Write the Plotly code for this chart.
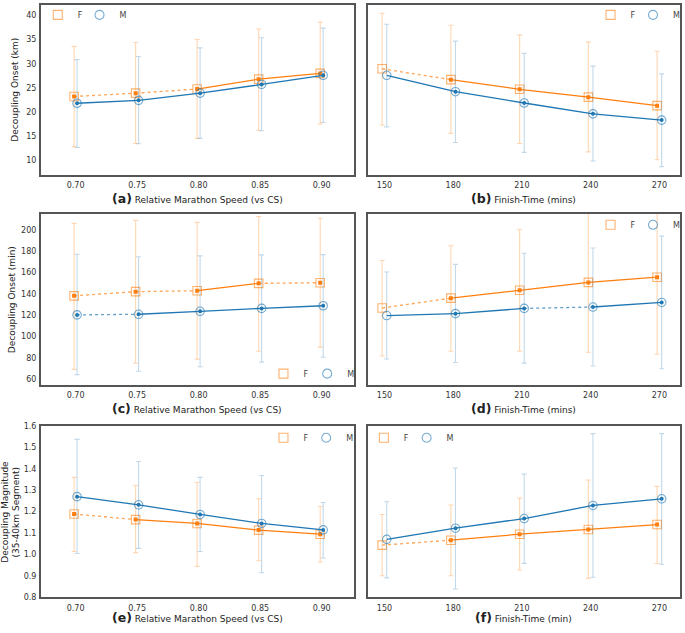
import plotly.graph_objects as go

W, H = 685, 633

speed = [0.70, 0.75, 0.80, 0.85, 0.90]
speed_labels = ["0.70", "0.75", "0.80", "0.85", "0.90"]
finish = [150, 180, 210, 240, 270]
finish_labels = ["150", "180", "210", "240", "270"]

# (a) Decoupling onset (km) vs relative speed
a_F_mean = [23.2, 23.9, 24.75, 26.8, 28.0]
a_F_hi = [33.6, 34.4, 35.05, 37.2, 38.65]
a_F_lo = [12.8, 13.45, 14.5, 16.2, 17.5]
a_M_mean = [21.8, 22.4, 23.9, 25.7, 27.6]
a_M_hi = [30.85, 31.5, 33.3, 35.4, 37.4]
a_M_lo = [12.6, 13.4, 14.5, 16.1, 17.8]

# (b) Decoupling onset (km) vs finish time
b_F_mean = [28.96, 26.7, 24.7, 23.07, 21.3]
b_F_hi = [40.5, 38.0, 36.0, 34.5, 32.6]
b_F_lo = [17.3, 15.55, 13.45, 11.7, 10.06]
b_M_mean = [27.6, 24.2, 21.85, 19.6, 18.3]
b_M_hi = [38.2, 34.7, 32.15, 29.5, 27.9]
b_M_lo = [16.9, 13.65, 11.6, 9.8, 8.65]

# (c) Decoupling onset (min) vs relative speed
c_F_mean = [138.2, 142.1, 143.0, 149.9, 150.5]
c_F_hi = [206.2, 209.0, 207.1, 212.6, 211.0]
c_F_lo = [69.2, 75.0, 78.8, 86.2, 90.1]
c_M_mean = [120.3, 120.9, 123.7, 126.4, 128.9]
c_M_hi = [177.2, 174.8, 175.7, 176.6, 176.9]
c_M_lo = [64.3, 67.4, 71.7, 76.0, 80.6]

# (d) Decoupling onset (min) vs finish time
d_F_mean = [126.8, 136.0, 143.4, 150.8, 155.7]
d_F_hi = [171.4, 185.2, 200.6, 228.0, 232.0]
d_F_lo = [81.8, 86.2, 86.2, 85.3, 83.4]
d_M_mean = [119.7, 121.5, 126.4, 127.7, 132.0]
d_M_hi = [160.6, 167.7, 178.2, 183.1, 194.2]
d_M_lo = [79.0, 75.7, 75.1, 72.3, 69.8]

# (e) Decoupling magnitude vs relative speed
e_F_mean = [1.189, 1.163, 1.145, 1.114, 1.095]
e_F_hi = [1.36, 1.323, 1.337, 1.26, 1.224]
e_F_lo = [1.014, 1.009, 0.945, 0.971, 0.965]
e_M_mean = [1.27, 1.232, 1.187, 1.145, 1.115]
e_M_hi = [1.537, 1.434, 1.36, 1.369, 1.243]
e_M_lo = [1.005, 1.029, 1.014, 0.915, 0.984]

# (f) Decoupling magnitude vs finish time
f_F_mean = [1.044, 1.067, 1.095, 1.117, 1.14]
f_F_hi = [1.187, 1.231, 1.263, 1.348, 1.318]
f_F_lo = [0.901, 0.901, 0.928, 0.889, 0.958]
f_M_mean = [1.071, 1.123, 1.168, 1.229, 1.26]
f_M_hi = [1.246, 1.404, 1.375, 1.564, 1.564]
f_M_lo = [0.891, 0.839, 0.959, 0.894, 0.955]

# line style of each segment between neighbouring categories
S, D = "solid", "dot"
seg_styles = {
    "a": ([D, D, S, S], [S, S, S, S]),
    "b": ([D, S, S, S], [S, S, S, S]),
    "c": ([D, D, S, D], [D, S, S, S]),
    "d": ([D, S, S, S], [S, S, D, S]),
    "e": ([D, S, S, S], [S, S, S, S]),
    "f": ([D, S, S, S], [S, S, S, S]),
}

ORANGE = "#ff7f0e"
BLUE = "#1f77b4"
ORANGE_EB = "rgba(255,127,14,0.32)"
BLUE_EB = "rgba(31,119,180,0.28)"
ORANGE_MK = "rgba(255,127,14,0.6)"
BLUE_MK = "rgba(31,119,180,0.6)"
FONT = "DejaVu Sans"


def px_x(p):
    return p / W


def px_y(p):
    return 1 - p / H


# panel geometry (pixels)
colx = [(41, 356), (370, 684)]
rowy = [(1, 173), (213, 386), (428, 602)]

panels = [
    dict(key="a", x=speed, F=(a_F_mean, a_F_hi, a_F_lo), M=(a_M_mean, a_M_hi, a_M_lo), col=0, row=0, dodge=0.0012, dot_from=0),
    dict(key="b", x=finish, F=(b_F_mean, b_F_hi, b_F_lo), M=(b_M_mean, b_M_hi, b_M_lo), col=1, row=0, dodge=1.0, dot_from=1),
    dict(key="c", x=speed, F=(c_F_mean, c_F_hi, c_F_lo), M=(c_M_mean, c_M_hi, c_M_lo), col=0, row=1, dodge=0.0012, dot_from=0),
    dict(key="d", x=finish, F=(d_F_mean, d_F_hi, d_F_lo), M=(d_M_mean, d_M_hi, d_M_lo), col=1, row=1, dodge=1.0, dot_from=1),
    dict(key="e", x=speed, F=(e_F_mean, e_F_hi, e_F_lo), M=(e_M_mean, e_M_hi, e_M_lo), col=0, row=2, dodge=0.0012, dot_from=0),
    dict(key="f", x=finish, F=(f_F_mean, f_F_hi, f_F_lo), M=(f_M_mean, f_M_hi, f_M_lo), col=1, row=2, dodge=1.0, dot_from=1),
]

yranges = [(7.0, 42.2), (55.0, 215.0), (0.8, 1.6)]
ytickvals = [[10, 15, 20, 25, 30, 35, 40],
             [60, 80, 100, 120, 140, 160, 180, 200],
             [0.8, 0.9, 1.0, 1.1, 1.2, 1.3, 1.4, 1.5, 1.6]]
yticktext = [["10", "15", "20", "25", "30", "35", "40"],
             ["60", "80", "100", "120", "140", "160", "180", "200"],
             ["0.8", "0.9", "1.0", "1.1", "1.2", "1.3", "1.4", "1.5", "1.6"]]
xranges = [(0.6717, 0.9262), (142.75, 279.0)]

fig = go.Figure()
layout = {}

# legend symbol centres (F square, M circle), pixels
legend_pos = {
    "a": ((57, 11), (99, 11)), "b": ((613, 11), (656, 11)),
    "c": ((284, 375), (328, 375)), "d": ((613, 224), (656, 224)),
    "e": ((284, 440), (327, 440)), "f": ((385, 440), (428, 440)),
}

leg_count = 0
for i, p in enumerate(panels):
    n = "" if i == 0 else str(i + 1)
    xa, ya = "x" + n, "y" + n
    x0, x1 = colx[p["col"]]
    y0, y1 = rowy[p["row"]]
    xr = xranges[p["col"]]
    ticklabels = speed_labels if p["col"] == 0 else finish_labels
    layout["xaxis" + n] = dict(
        domain=[px_x(x0), px_x(x1)], anchor=ya, range=list(xr),
        tickvals=p["x"], ticktext=ticklabels, showgrid=False, zeroline=False,
        showline=True, mirror=True, linecolor="#555555", linewidth=1.6,
        ticks="", ticklabelstandoff=2,
        tickfont=dict(family=FONT, size=8, color="#333333"),
    )
    layout["yaxis" + n] = dict(
        domain=[px_y(y1), px_y(y0)], anchor=xa, range=list(yranges[p["row"]]),
        tickvals=ytickvals[p["row"]], ticktext=yticktext[p["row"]],
        showticklabels=(p["col"] == 0),
        showgrid=False, zeroline=False,
        showline=True, mirror=True, linecolor="#555555", linewidth=1.6,
        ticks="", ticklabelstandoff=1,
        tickfont=dict(family=FONT, size=8, color="#333333"),
    )

    for j, (sex, sign, col, eb, mk, sym, styles) in enumerate((
        ("F", -1, ORANGE, ORANGE_EB, ORANGE_MK, "square-open", seg_styles[p["key"]][0]),
        ("M", 1, BLUE, BLUE_EB, BLUE_MK, "circle-open", seg_styles[p["key"]][1]),
    )):
        mean, hi, lo = p[sex]
        xs = [v + sign * p["dodge"] for v in p["x"]]
        # error bars
        fig.add_trace(go.Scatter(
            x=xs, y=mean, xaxis=xa, yaxis=ya, mode="markers",
            marker=dict(size=1, opacity=0), showlegend=False, hoverinfo="skip",
            error_y=dict(type="data", symmetric=False,
                         array=[h - m for h, m in zip(hi, mean)],
                         arrayminus=[m - l for m, l in zip(mean, lo)],
                         color=eb, thickness=1.1, width=2.5),
        ))
        # connecting line segments
        for k, st in enumerate(styles):
            fig.add_trace(go.Scatter(
                x=xs[k:k + 2], y=mean[k:k + 2], xaxis=xa, yaxis=ya, mode="lines",
                line=dict(color=col, width=1.3 if st == S else 1.3, dash=st),
                opacity=1.0 if st == S else 0.7,
                showlegend=False, hoverinfo="skip",
            ))
        # big open markers
        fig.add_trace(go.Scatter(
            x=xs, y=mean, xaxis=xa, yaxis=ya, mode="markers",
            marker=dict(symbol=sym, size=8.5, color=mk, line=dict(width=1.1, color=mk)),
            showlegend=False, hoverinfo="skip",
        ))
        # small filled dots
        s0 = p["dot_from"]
        fig.add_trace(go.Scatter(
            x=xs[s0:], y=mean[s0:], xaxis=xa, yaxis=ya, mode="markers",
            marker=dict(symbol="square" if sex == "F" else "circle", size=4, color=col),
            showlegend=False, hoverinfo="skip",
        ))
        # legend entry (one small legend per entry)
        leg_count += 1
        lname = "legend" if leg_count == 1 else "legend" + str(leg_count)
        fig.add_trace(go.Scatter(
            x=[None], y=[None], xaxis=xa, yaxis=ya, mode="markers", name=sex,
            marker=dict(symbol=sym, size=9, color=mk, line=dict(width=1.1, color=mk)),
            legend=lname, showlegend=True,
        ))
        lx, ly = legend_pos[p["key"]][j]
        layout[lname] = dict(
            x=px_x(lx - 19), y=px_y(ly), xanchor="left", yanchor="middle",
            orientation="h", bgcolor="rgba(0,0,0,0)", borderwidth=0,
            font=dict(family=FONT, size=8, color="#444444"),
            itemclick=False, itemdoubleclick=False,
        )

annotations = []
xtitles = [
    ("(a)", "Relative Marathon Speed (vs CS)", 0, 197),
    ("(b)", "Finish-Time (mins)", 1, 197),
    ("(c)", "Relative Marathon Speed (vs CS)", 0, 410),
    ("(d)", "Finish-Time (mins)", 1, 410),
    ("(e)", "Relative Marathon Speed (vs CS)", 0, 622),
    ("(f)", "Finish-Time (min)", 1, 622),
]
for tag, txt, c, yp in xtitles:
    x0, x1 = colx[c]
    annotations.append(dict(
        xref="paper", yref="paper", x=px_x((x0 + x1) / 2), y=px_y(yp),
        xanchor="center", yanchor="middle", showarrow=False,
        text="<span style='font-size:12.5px'><b>" + tag + "</b></span> " + txt,
        font=dict(family=FONT, size=9, color="#222222"),
    ))
ytitles = [
    ("Decoupling Onset (km)", 15, 87),
    ("Decoupling Onset (min)", 12, 299.5),
    ("Decoupling Magnitude", 5, 515),
    ("(35-40km Segment)", 16, 515),
]
for txt, xp, yp in ytitles:
    annotations.append(dict(
        xref="paper", yref="paper", x=px_x(xp), y=px_y(yp),
        xanchor="center", yanchor="middle", showarrow=False, textangle=-90,
        text=txt, font=dict(family=FONT, size=9, color="#222222"),
    ))

fig.update_layout(
    width=W, height=H, margin=dict(l=0, r=0, t=0, b=0),
    paper_bgcolor="white", plot_bgcolor="white",
    annotations=annotations, **layout,
)

fig.write_html("out.html", config={"displayModeBar": False},
               post_script="document.body.style.margin='0';")
